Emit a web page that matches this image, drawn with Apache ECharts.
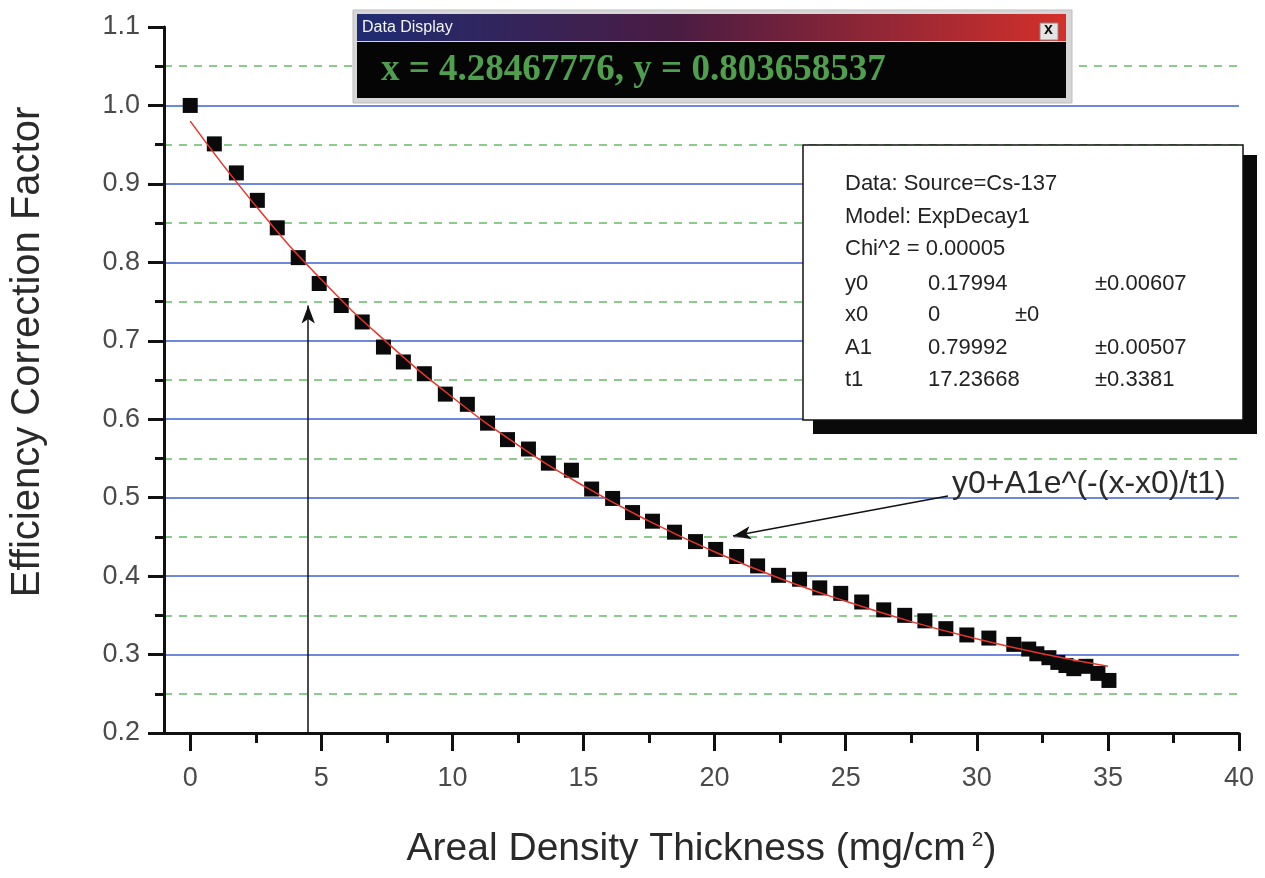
<!DOCTYPE html>
<html>
<head>
<meta charset="utf-8">
<title>Efficiency Correction Factor</title>
<script src="https://cdn.jsdelivr.net/npm/echarts@6/dist/echarts.min.js"></script>
<style>
  html, body { margin: 0; padding: 0; background: #fff; }
  #chart { width: 1265px; height: 878px; }
</style>
</head>
<body>
<div id="chart"></div>
<script>
// measured points: areal density thickness (mg/cm2) -> efficiency correction factor
const thickness = [0, 0.92, 1.76, 2.56, 3.32, 4.12, 4.92, 5.76, 6.56, 7.37, 8.13, 8.93, 9.73, 10.57,
  11.34, 12.1, 12.9, 13.66, 14.54, 15.31, 16.11, 16.87, 17.63, 18.47, 19.27, 20.04, 20.84, 21.64,
  22.44, 23.24, 24.01, 24.81, 25.61, 26.45, 27.25, 28.02, 28.82, 29.62, 30.46, 31.41, 31.98, 32.29,
  32.75, 33.09, 33.4, 33.7, 34.16, 34.62, 35.04];
const factor = [1.0, 0.951, 0.914, 0.879, 0.844, 0.806, 0.773, 0.745, 0.724, 0.692, 0.673, 0.658, 0.632, 0.619,
  0.595, 0.574, 0.562, 0.544, 0.535, 0.511, 0.499, 0.481, 0.470, 0.456, 0.444, 0.434, 0.425, 0.413,
  0.401, 0.396, 0.385, 0.378, 0.367, 0.357, 0.350, 0.343, 0.333, 0.325, 0.321, 0.313, 0.307, 0.301,
  0.296, 0.290, 0.286, 0.282, 0.285, 0.276, 0.267];

// red fit curve (ExpDecay1)
const fitX = [0, 2.5, 5, 7.5, 10, 12.5, 15, 17.5, 20, 22.5, 25, 27.5, 30, 32.5, 35];
const fitY = [0.980, 0.872, 0.778, 0.698, 0.628, 0.567, 0.515, 0.470, 0.431, 0.397, 0.368, 0.342, 0.320, 0.301, 0.285];

const xMajorTicks = [0, 5, 10, 15, 20, 25, 30, 35, 40];
const xMinorTicks = [2.5, 7.5, 12.5, 17.5, 22.5, 27.5, 32.5, 37.5];

const fitInfo = ['Data: Source=Cs-137', 'Model: ExpDecay1', 'Chi^2 = 0.00005'];
const paramNames = ['y0', 'x0', 'A1', 't1'];
const paramValues = ['0.17994', '0', '0.79992', '17.23668'];
const paramErrors = ['±0.00607', '±0', '±0.00507', '±0.3381'];

const cursorText = 'x = 4.28467776, y = 0.803658537';
const formulaText = 'y0+A1e^(-(x-x0)/t1)';

const font = '"Liberation Sans", Arial, sans-serif';
const chart = echarts.init(document.getElementById('chart'));

// fit parameter box text
const boxText = [];
const rowY = [185, 218, 250, 285, 316, 349, 381];
const boxFont = '22px ' + font;
fitInfo.forEach((t, i) => {
  boxText.push({ type: 'text', left: 845, top: rowY[i] - 12, z: 102,
    style: { text: t, font: boxFont, fill: '#222' } });
});
paramNames.forEach((n, i) => {
  const y = rowY[i + 3] - 12;
  boxText.push({ type: 'text', left: 845, top: y, z: 102, style: { text: n, font: boxFont, fill: '#222' } });
  boxText.push({ type: 'text', left: 928, top: y, z: 102, style: { text: paramValues[i], font: boxFont, fill: '#222' } });
  boxText.push({ type: 'text', left: n === 'x0' ? 1015 : 1095, top: y, z: 102,
    style: { text: paramErrors[i], font: boxFont, fill: '#222' } });
});

chart.setOption({
  animation: false,
  grid: { left: 164, right: 26, top: 27, bottom: 145 },
  xAxis: [
    {
      type: 'value', min: -1, max: 40,
      name: '{t|Areal Density Thickness (mg/cm}{s|2}{t|)}',
      nameLocation: 'middle', nameGap: 97,
      nameTextStyle: {
        rich: {
          t: { fontSize: 39, fontFamily: font, color: '#2a2a2a' },
          s: { fontSize: 21, fontFamily: font, color: '#2a2a2a', verticalAlign: 'top', padding: [0, 0, 18, 6] }
        }
      },
      axisLine: { onZero: false, lineStyle: { color: '#111', width: 3 } },
      axisTick: { customValues: xMajorTicks, length: 18, lineStyle: { color: '#111', width: 3 } },
      axisLabel: { customValues: xMajorTicks, fontSize: 27, fontFamily: font, color: '#4a4a4a', margin: 32 },
      splitLine: { show: false }
    },
    {
      type: 'value', min: -1, max: 40, position: 'bottom', offset: 0,
      axisLine: { show: false },
      axisTick: { customValues: xMinorTicks, length: 10, lineStyle: { color: '#111', width: 3 } },
      axisLabel: { show: false },
      splitLine: { show: false }
    }
  ],
  yAxis: {
    type: 'value', min: 0.2, max: 1.1, interval: 0.1,
    name: 'Efficiency Correction Factor',
    nameLocation: 'middle', nameGap: 116,
    nameTextStyle: { fontSize: 40, fontFamily: font, color: '#2a2a2a', padding: [0, 0, 0, 56] },
    axisLine: { onZero: false, lineStyle: { color: '#111', width: 3 } },
    axisTick: { length: 16, lineStyle: { color: '#111', width: 3 } },
    minorTick: { show: true, splitNumber: 2, length: 9, lineStyle: { color: '#111', width: 3 } },
    axisLabel: { fontSize: 27, fontFamily: font, color: '#4a4a4a', margin: 24,
      formatter: v => v.toFixed(1) },
    splitLine: { show: true, showMinLine: false, showMaxLine: false,
      lineStyle: { color: '#3f5fd0', width: 1.5 } },
    minorSplitLine: { show: true, lineStyle: { color: '#66bb66', width: 1.5, type: [8, 7] } }
  },
  series: [
    {
      type: 'scatter',
      data: thickness.map((x, i) => [x, factor[i]]),
      symbol: 'rect', symbolSize: 15,
      itemStyle: { color: '#0a0a0a', opacity: 1 },
      z: 3,
      markLine: {
        silent: true,
        symbol: ['none', 'arrow'],
        symbolSize: [10, 18],
        label: { show: false },
        lineStyle: { color: '#111', width: 1.5, type: 'solid', opacity: 1 },
        data: [
          [{ coord: [4.5, 0.2] }, { coord: [4.5, 0.745] }],
          [{ coord: [28.9, 0.502] }, { coord: [20.7, 0.451] }]
        ]
      }
    },
    {
      type: 'line',
      data: fitX.map((x, i) => [x, fitY[i]]),
      smooth: true,
      showSymbol: false,
      lineStyle: { color: '#e8352a', width: 1.5 },
      z: 4
    }
  ],
  graphic: [
    // data display window
    { type: 'rect', shape: { x: 353, y: 10, width: 719, height: 93 }, z: 100,
      style: { fill: '#d6d6d6', stroke: '#bdbdbd', lineWidth: 1 } },
    { type: 'rect', shape: { x: 357, y: 14, width: 709, height: 27 }, z: 101,
      style: { fill: new echarts.graphic.LinearGradient(0, 0, 1, 0, [
        { offset: 0, color: '#1f2c72' }, { offset: 0.45, color: '#4a1c42' }, { offset: 1, color: '#d4302a' }
      ]) } },
    { type: 'text', left: 362, top: 20, z: 102,
      style: { text: 'Data Display', font: '16px ' + font, fill: '#f4f4f4' } },
    { type: 'rect', shape: { x: 1040, y: 23, width: 18, height: 17 }, z: 102,
      style: { fill: '#e4e4e4', stroke: '#888', lineWidth: 1 } },
    { type: 'text', left: 1044, top: 22, z: 103,
      style: { text: 'x', font: 'bold 16px ' + font, fill: '#111' } },
    { type: 'rect', shape: { x: 357, y: 42, width: 709, height: 56 }, z: 101,
      style: { fill: '#050505' } },
    { type: 'text', left: 381, top: 52, z: 102,
      style: { text: cursorText, font: 'bold 37px "Liberation Serif", "Times New Roman", serif', fill: '#4f9f4f' } },
    // fit parameter box with shadow
    { type: 'rect', shape: { x: 813, y: 155, width: 444, height: 279 }, z: 100,
      style: { fill: '#0a0a0a' } },
    { type: 'rect', shape: { x: 803, y: 145, width: 440, height: 275 }, z: 101,
      style: { fill: '#fff', stroke: '#111', lineWidth: 1.5 } },
    ...boxText,
    // fit formula label
    { type: 'text', left: 952, top: 468, z: 102,
      style: { text: formulaText, font: '32px ' + font, fill: '#2a2a2a' } }
  ]
});
</script>
</body>
</html>
